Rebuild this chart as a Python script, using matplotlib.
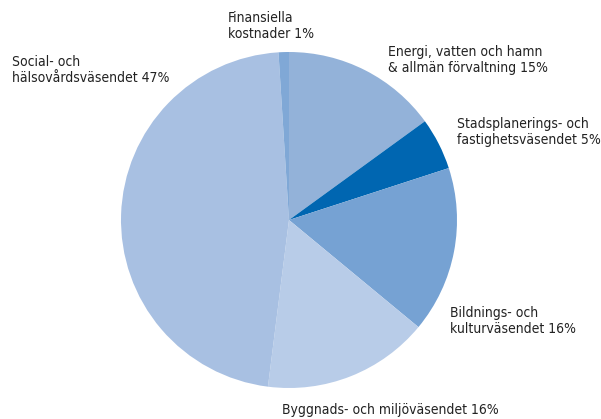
import matplotlib
matplotlib.use('Agg')
from matplotlib import pyplot as plt

# Andelar (medurs från toppen)
labels = ['Energi, vatten och hamn\n& allmän förvaltning 15%',
          'Stadsplanerings- och\nfastighetsväsendet 5%',
          'Bildnings- och\nkulturväsendet 16%',
          'Byggnads- och miljöväsendet 16%',
          'Social- och\nhälsovårdsväsendet 47%',
          'Finansiella\nkostnader 1%']
shares = [15, 5, 16, 16, 47, 1]
colors = ['#93b2d9', '#0066b1', '#76a2d3', '#b8cce8', '#a8c0e2', '#80a8d6']
# textens övre vänstra hörn i pixlar
label_pos = [(388, 45), (457, 117), (450, 306), (282, 403), (12, 55), (228, 11)]

W, H = 601, 419
fig = plt.figure(figsize=(W / 100, H / 100), dpi=100)
cx, cy, r = 289, 220, 168
ax = fig.add_axes([(cx - r) / W, (H - cy - r) / H, 2 * r / W, 2 * r / H])
ax.pie(shares, colors=colors, startangle=90, counterclock=False, radius=1,
       wedgeprops=dict(linewidth=0))
ax.set_xlim(-1, 1)
ax.set_ylim(-1, 1)
ax.axis('off')

for lab, (px, py) in zip(labels, label_pos):
    fig.text(px / W, 1 - py / H, lab, ha='left', va='top', fontsize=10,
             color='#222222', linespacing=1.22, fontstretch='condensed',
             family=['DejaVu Sans'])

fig.savefig('out.png', dpi=100)
